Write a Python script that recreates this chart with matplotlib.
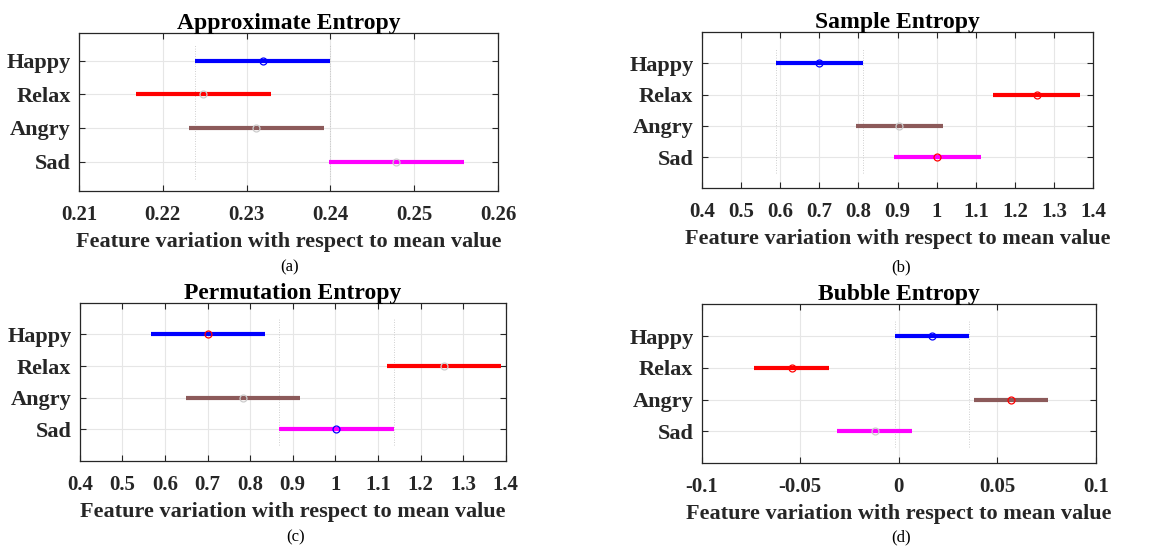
import numpy as np
import matplotlib
matplotlib.use("Agg")
import matplotlib.pyplot as plt

plt.rcParams['font.family'] = ['Liberation Serif', 'DejaVu Serif']

W, H = 1176, 551

groups = ['Happy', 'Relax', 'Angry', 'Sad']
colors = ['#0000ff', '#ff0000', '#8c5a5a', '#ff00ff']

# comparison intervals: lower bound, group mean, upper bound
approx_lo = [0.2239, 0.2168, 0.2231, 0.2398]
approx_mu = [0.2319, 0.2248, 0.2311, 0.2478]
approx_hi = [0.2399, 0.2329, 0.2392, 0.2559]

sample_lo = [0.589, 1.144, 0.793, 0.891]
sample_mu = [0.699, 1.255, 0.905, 1.002]
sample_hi = [0.811, 1.367, 1.016, 1.114]

perm_lo = [0.567, 1.121, 0.650, 0.868]
perm_mu = [0.700, 1.254, 0.783, 1.002]
perm_hi = [0.835, 1.389, 0.918, 1.137]

bubble_lo = [-0.0021, -0.0733, 0.0381, -0.0312]
bubble_mu = [0.0168, -0.0544, 0.0569, -0.0123]
bubble_hi = [0.0358, -0.0354, 0.0758, 0.0068]

# marker edge colour of each mean: b = selected group, r = significantly different, g = not
approx_mark = ['b', 'g', 'g', 'g']
sample_mark = ['b', 'r', 'g', 'r']
perm_mark = ['r', 'g', 'g', 'b']
bubble_mark = ['b', 'r', 'r', 'g']
mark_col = {'b': '#0000ff', 'r': '#ff0000', 'g': '#cccccc'}

panels = [
    dict(title='Approximate Entropy', lo=approx_lo, mu=approx_mu, hi=approx_hi,
         mark=approx_mark, sel=0, box=(79, 498, 33.3, 191), ylim=(0.13, 4.81),
         xlim=(0.21, 0.26), xticks=[0.21, 0.22, 0.23, 0.24, 0.25, 0.26],
         xtl=['0.21', '0.22', '0.23', '0.24', '0.25', '0.26'],
         cap='(a)', cap_xy=(290, 267)),
    dict(title='Sample Entropy', lo=sample_lo, mu=sample_mu, hi=sample_hi,
         mark=sample_mark, sel=0, box=(701.7, 1093.3, 32.3, 188.3), ylim=(0, 5),
         xlim=(0.4, 1.4), xticks=np.arange(0.4, 1.41, 0.1),
         xtl=['0.4', '0.5', '0.6', '0.7', '0.8', '0.9', '1', '1.1', '1.2', '1.3', '1.4'],
         cap='(b)', cap_xy=(901, 267)),
    dict(title='Permutation Entropy', lo=perm_lo, mu=perm_mu, hi=perm_hi,
         mark=perm_mark, sel=3, box=(79.7, 505.7, 302.7, 461), ylim=(0, 5),
         xlim=(0.4, 1.4), xticks=np.arange(0.4, 1.41, 0.1),
         xtl=['0.4', '0.5', '0.6', '0.7', '0.8', '0.9', '1', '1.1', '1.2', '1.3', '1.4'],
         cap='(c)', cap_xy=(296, 537)),
    dict(title='Bubble Entropy', lo=bubble_lo, mu=bubble_mu, hi=bubble_hi,
         mark=bubble_mark, sel=0, box=(701.7, 1096, 304.3, 463), ylim=(0, 5),
         xlim=(-0.1, 0.1), xticks=[-0.1, -0.05, 0, 0.05, 0.1],
         xtl=['-0.1', '-0.05', '0', '0.05', '0.1'],
         cap='(d)', cap_xy=(901, 537)),
]

fig = plt.figure(figsize=(W / 100, H / 100), dpi=100)
fig.patch.set_facecolor('white')

for p in panels:
    l, r, t, b = p['box']
    ax = fig.add_axes([l / W, 1 - b / H, (r - l) / W, (b - t) / H])
    ypos = np.arange(len(groups), 0, -1)

    # dotted limits of the selected group's interval
    s = p['sel']
    for xv in (p['lo'][s], p['hi'][s]):
        ax.plot([xv, xv], [0.5, 4.5], color='#c0c0c0', lw=0.6, ls=(0, (1, 2)), zorder=1)

    for i, g in enumerate(groups):
        ax.plot([p['lo'][i], p['hi'][i]], [ypos[i], ypos[i]], color=colors[i],
                lw=3.0, solid_capstyle='butt', zorder=2)
        ax.plot(p['mu'][i], ypos[i], 'o', mfc='none', mec=mark_col[p['mark'][i]],
                ms=5, mew=0.9, zorder=3)

    ax.set_xlim(*p['xlim'])
    ax.set_ylim(*p['ylim'])
    ax.set_xticks(p['xticks'])
    ax.set_xticklabels(p['xtl'])
    ax.set_yticks(ypos)
    ax.set_yticklabels(groups)
    ax.grid(True, color='#e6e6e6', lw=0.8)
    ax.set_axisbelow(True)
    ax.tick_params(direction='in', top=True, right=True, length=4, width=0.8,
                   color='#262626', labelcolor='#262626')
    for lab in ax.get_xticklabels():
        lab.set_fontsize(15)
        lab.set_fontweight('bold')
    for lab in ax.get_yticklabels():
        lab.set_fontsize(16)
        lab.set_fontweight('bold')
    ax.tick_params(axis='x', pad=10)
    ax.tick_params(axis='y', pad=6)
    for sp in ax.spines.values():
        sp.set_color('#262626')
        sp.set_linewidth(0.9)

    ax.set_title(p['title'], fontsize=17, fontweight='bold', color='black', pad=3)
    ax.set_xlabel('Feature variation with respect to mean value', fontsize=16,
                  fontweight='bold', color='#262626', labelpad=5)
    fig.text(p['cap_xy'][0] / W, 1 - p['cap_xy'][1] / H, p['cap'], fontsize=12,
             ha='center', va='center', color='black')

fig.savefig('out.png', dpi=100)
